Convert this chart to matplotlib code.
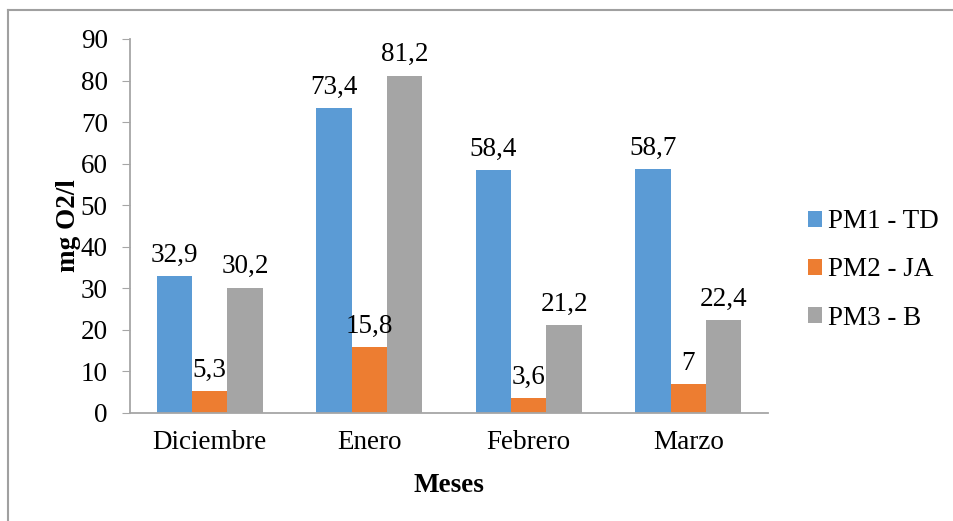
import matplotlib
matplotlib.use("Agg")
import matplotlib.pyplot as plt
import numpy as np
from matplotlib.lines import Line2D

months = ["Diciembre", "Enero", "Febrero", "Marzo"]
series_names = ["PM1 - TD", "PM2 - JA", "PM3 - B"]
pm1_td = [32.9, 73.4, 58.4, 58.7]
pm2_ja = [5.3, 15.8, 3.6, 7.0]
pm3_b = [30.2, 81.2, 21.2, 22.4]
colors = ["#5B9BD5", "#ED7D31", "#A5A5A5"]
yticks = [0, 10, 20, 30, 40, 50, 60, 70, 80, 90]

plt.rcParams["font.family"] = ["Liberation Serif", "DejaVu Serif"]
FS = 19.5

fig = plt.figure(figsize=(9.54, 5.21), dpi=100)
ax = fig.add_axes([130 / 954, 1 - 413 / 521, (768 - 130) / 954, (413 - 39) / 521])

x = np.arange(len(months))
width = 0.222
all_series = [pm1_td, pm2_ja, pm3_b]
for i, (vals, name, col) in enumerate(zip(all_series, series_names, colors)):
    pos = x + (i - 1) * width
    bars = ax.bar(pos, vals, width, color=col, label=name)
    for b, v in zip(bars, vals):
        txt = f"{v:g}".replace(".", ",")
        ax.annotate(txt, (b.get_x() + b.get_width() / 2, v),
                    xytext=(0, 6), textcoords="offset points",
                    ha="center", va="bottom", fontsize=FS)

ax.set_xlim(-0.5, len(months) - 0.5)
ax.set_ylim(0, 90)
ax.set_yticks(yticks)
ax.set_xticks(x)
ax.set_xticklabels(months)
ax.tick_params(axis="y", labelsize=FS, length=6, color="#A6A6A6", pad=10)
ax.tick_params(axis="x", labelsize=FS, length=0, pad=12)

for s in ["top", "right"]:
    ax.spines[s].set_visible(False)
for s in ["left", "bottom"]:
    ax.spines[s].set_color("#A6A6A6")
    ax.spines[s].set_linewidth(1.3)

ax.set_ylabel("mg O2/l", fontsize=FS, fontweight="bold", labelpad=0)
ax.set_xlabel("Meses", fontsize=FS, fontweight="bold", labelpad=13)

fig.legend(*ax.get_legend_handles_labels(), loc="center left",
           bbox_to_anchor=(808 / 954, 1 - 270 / 521),
           bbox_transform=fig.transFigure, frameon=False, borderpad=0,
           borderaxespad=0, fontsize=FS, handlelength=0.5, handleheight=0.5,
           handletextpad=0.25, labelspacing=0.85)

# outer chart frame (top and left edges visible)
fig.add_artist(Line2D([8 / 954, 1], [1 - 10 / 521, 1 - 10 / 521],
                      transform=fig.transFigure, color="#A0A0A0", lw=1.5))
fig.add_artist(Line2D([8 / 954, 8 / 954], [0, 1 - 10 / 521],
                      transform=fig.transFigure, color="#A0A0A0", lw=1.5))

fig.savefig("out.png", dpi=100)
